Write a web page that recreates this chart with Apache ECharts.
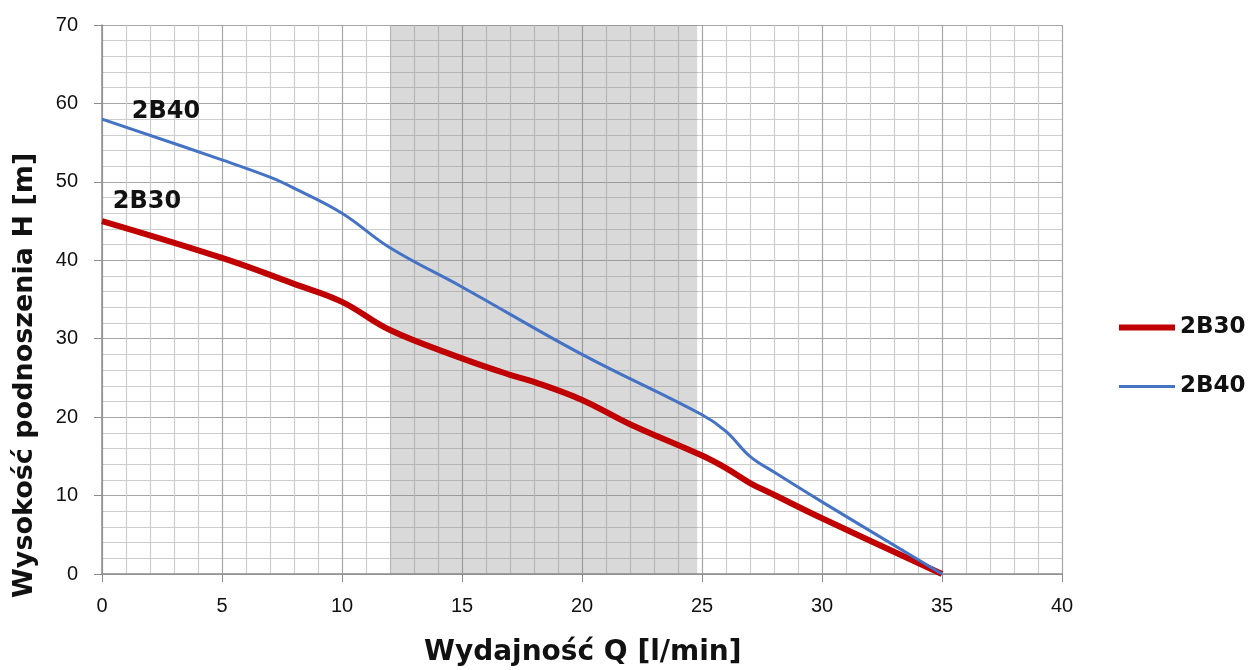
<!DOCTYPE html>
<html><head><meta charset="utf-8">
<script src="https://cdn.jsdelivr.net/npm/echarts@6/dist/echarts.min.js"></script>
<style>html,body{margin:0;padding:0;background:#fff}#c{width:1248px;height:670px}</style>
</head><body><div id="c"></div>
<script>
const xTicks = [0,5,10,15,20,25,30,35,40];
const yTicks = [0,10,20,30,40,50,60,70];
const q2B30 = [0,5,8,10,12,15,17,18,20,22,25,26,27,28,30,35];
const h2B30 = [45,40.3,37,34.7,31.1,27.5,25.4,24.5,22.2,19.1,15.1,13.5,11.6,10.1,7.1,0];
const q2B40 = [0,5,7,8,10,12,15,20,25,26,27,28,30,35];
const h2B40 = [58,52.8,50.6,49.2,46,41.6,36.6,28,20.3,18.2,15,13,9.2,0];
const shadeRange = [12,24.8];
const seriesNames = ['2B30','2B40'];

const chart = echarts.init(document.getElementById('c'));
const font = '"DejaVu Sans", sans-serif';
const tickFont = '"Liberation Sans", Arial, sans-serif';
function mp(q,h,lbl,off){
  return {symbol:'circle',symbolSize:1,silent:true,itemStyle:{color:'transparent'},
    label:{show:true,formatter:lbl,offset:off,position:'inside',fontSize:24,fontWeight:'bold',color:'#111',fontFamily:font},
    data:[{coord:[q,h]}]};
}
chart.setOption({
  animation:false,
  grid:{left:102,right:186,top:25,bottom:96},
  legend:{orient:'vertical',left:1114,top:311,itemWidth:56,itemHeight:12,itemGap:36,
    textStyle:{fontSize:23,fontWeight:'bold',color:'#111',fontFamily:font},
    data:[{name:'2B30',icon:'path://M0,0 L56,0 L56,6 L0,6 Z'},{name:'2B40',icon:'path://M0,0 L56,0 L56,3 L0,3 Z'}]},
  xAxis:{type:'value',min:0,max:40,interval:5,
    axisLine:{show:true,onZero:false,lineStyle:{color:'#8c8c8c',width:1.5}},
    axisTick:{show:true,length:8,lineStyle:{color:'#8c8c8c'}},
    axisLabel:{fontSize:20,color:'#111',margin:22,fontFamily:tickFont},
    splitLine:{show:true,lineStyle:{color:'#a6a6a6',width:1.2}},
    minorTick:{show:false,splitNumber:5},
    minorSplitLine:{show:true,lineStyle:{color:'#cdcdcd',width:1.2}}},
  yAxis:{type:'value',min:0,max:70,interval:10,
    axisLine:{show:true,lineStyle:{color:'#8c8c8c',width:1.5}},
    axisTick:{show:true,length:8,lineStyle:{color:'#8c8c8c'}},
    axisLabel:{fontSize:20,color:'#111',margin:24,fontFamily:tickFont},
    splitLine:{show:true,lineStyle:{color:'#a6a6a6',width:1.2}},
    minorTick:{show:false,splitNumber:5},
    minorSplitLine:{show:true,lineStyle:{color:'#cdcdcd',width:1.2}}},
  series:[
    {name:'2B30',type:'line',smooth:0.4,symbol:'none',data:q2B30.map((q,i)=>[q,h2B30[i]]),
      lineStyle:{color:'#c00000',width:6},itemStyle:{color:'#c00000'},z:3,
      markPoint:mp(0,45,'2B30',[45,-19]),
      markArea:{silent:true,itemStyle:{color:'rgba(128,128,128,0.3)'},data:[[{xAxis:shadeRange[0]},{xAxis:shadeRange[1]}]]}},
    {name:'2B40',type:'line',smooth:0.4,symbol:'none',data:q2B40.map((q,i)=>[q,h2B40[i]]),
      lineStyle:{color:'#4472c4',width:3},itemStyle:{color:'#4472c4'},z:4,
      markPoint:mp(0,58,'2B40',[64,-7])}
  ],
  graphic:[
    {type:'text',left:424,top:639,style:{text:'Wydajność Q [l/min]',font:'bold 28px '+font,fill:'#111'}},
    {type:'text',rotation:Math.PI/2,x:11,y:598,style:{text:'Wysokość podnoszenia H [m]',font:'bold 27px '+font,fill:'#111'}}
  ]
});
</script></body></html>
